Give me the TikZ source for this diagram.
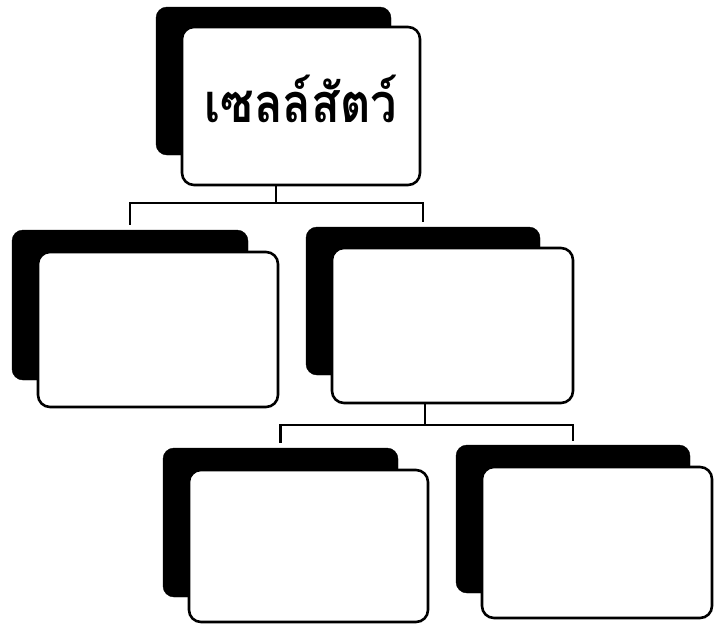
\documentclass[tikz,border=0pt]{standalone}
\usepackage{fontspec}
\newfontfamily\thaifont[Script=Thai]{Loma}
\begin{document}
\begin{tikzpicture}[x=1pt,y=-1pt,
  shadowbox/.style={fill=black,draw=black,rounded corners=11pt,inner sep=0pt},
  whitebox/.style={fill=white,draw=black,line width=2.6pt,rounded corners=12pt,inner sep=0pt},
  conn/.style={draw=black,line width=2.5pt}]
\useasboundingbox (0,0) rectangle (714,624);
% top
\node[shadowbox,minimum width=235pt,minimum height=148pt] (s0) at (273.5,81) {};
\node[whitebox,minimum width=238pt,minimum height=158pt] (b0) at (301,106) {};
\node (t0) at (301,99) {\scalebox{1}[1.15]{\thaifont\bfseries\fontsize{47}{50}\selectfont เซลล์สัตว์}};
% middle left
\node[shadowbox,minimum width=236pt,minimum height=150pt] (s1) at (130,305) {};
\node[whitebox,minimum width=240pt,minimum height=155pt] (b1) at (158,329.5) {};
% middle right
\node[shadowbox,minimum width=234pt,minimum height=148pt] (s2) at (423,301) {};
\node[whitebox,minimum width=241pt,minimum height=155pt] (b2) at (452.5,325.5) {};
% bottom left
\node[shadowbox,minimum width=235pt,minimum height=149pt] (s3) at (280.5,522.5) {};
\node[whitebox,minimum width=239pt,minimum height=152pt] (b3) at (308.5,546) {};
% bottom right
\node[shadowbox,minimum width=234pt,minimum height=148pt] (s4) at (573,519) {};
\node[whitebox,minimum width=230pt,minimum height=151pt] (b4) at (597,542.5) {};
% connectors
\coordinate (j0) at (276,203);
\coordinate (j1) at (425,425);
\draw[conn] (b0.south -| j0) -- (j0);
\draw[conn,shorten <=5pt,shorten >=5pt] (s1.north) |- (j0) -| (s2.north);
\draw[conn] (b2.south -| j1) -- (j1);
\draw[conn,shorten <=5pt,shorten >=4pt] (s3.north) |- (j1) -| (s4.north);
\end{tikzpicture}
\end{document}
